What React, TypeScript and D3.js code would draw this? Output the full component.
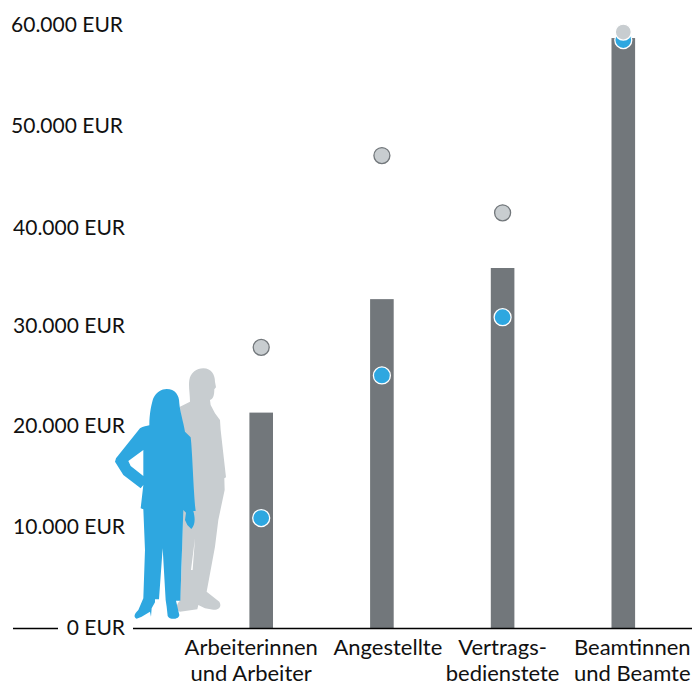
import React from "react";
import * as d3 from "d3";

const categories = ["arbeiter", "angestellte", "vertrags", "beamte"];
const categoryLabels = [
  ["Arbeiterinnen", "und Arbeiter"],
  ["Angestellte"],
  ["Vertrags-", "bedienstete"],
  ["Beamtinnen", "und Beamte"],
];
const barValues = [21500, 32800, 35900, 58800];
const menValues = [28000, 47100, 41400, 59400];
const womenValues = [11000, 25200, 31000, 58600];
const yTicks = [0, 10000, 20000, 30000, 40000, 50000, 60000];

const WIDTH = 692;
const HEIGHT = 686;
const FONT = "Lato, 'Noto Sans', sans-serif";
const BAR_COLOR = "#72777b";
const BLUE = "#2ea7e0";
const GRAY = "#c8cdd0";

// label placement in the original is hand set, so nudge per label
const labelDy = [-1, -1, -2, -2, 1, -1, -1];
const labelEnd = [125, 125, 125, 125, 125, 123, 123];
const categoryDx = [-10, 6, 0, 9];

// silhouettes, drawn in their own coordinates (3x of the screen)
const manPath =
  "M310,55 C335,55 345,75 345,95 L348,112 L343,118 C343,135 340,148 330,150 L332,165 L345,190 L360,210 L362,240 L378,382 L373,385 L374,420 L355,510 L345,590 L320,725 L358,755 C366,768 358,780 340,779 L315,775 L295,765 L292,778 L240,785 C228,780 226,765 240,752 L245,650 L250,400 L240,170 L270,155 C270,130 265,110 268,90 C272,68 290,55 310,55 Z " +
  "M285,565 L273,660 L278,660 Z";
const womanPath =
  "M200,117 C225,117 238,135 238,160 C240,185 250,215 255,245 L272,262 C277,300 280,420 287,483 L280,483 C286,505 286,525 274,537 L262,525 L255,510 L258,488 L250,480 L241,752 L228,752 L238,795 C236,810 208,810 203,798 L200,770 L197,750 L188,595 L177,748 L165,748 L165,757 L155,775 L153,800 L150,785 L125,800 L110,806 C100,802 102,792 115,780 L130,745 L135,600 L130,478 L122,475 L130,405 L122,415 L70,375 L45,335 L48,325 L120,235 C130,228 140,228 148,226 C148,190 155,160 160,145 C170,125 185,117 200,117 Z " +
  "M130,300 L85,333 L92,348 L130,378 Z";

const App = () => {
  const y = d3.scaleLinear().domain([0, 60000]).range([628.5, 26]);
  const x = d3.scalePoint<string>().domain(categories).range([261.2, 623.3]);
  const fmt = d3.formatLocale({
    decimal: ",",
    thousands: ".",
    grouping: [3],
    currency: ["", " EUR"],
  }).format(",");

  return (
    <svg
      width={WIDTH}
      height={HEIGHT}
      style={{ position: "absolute", left: 0, top: 0 }}
      fontFamily={FONT}
    >
      {/* figures */}
      <g transform="translate(100,350) scale(0.3333)">
        <path d={manPath} fill={GRAY} fillRule="evenodd" />
        <path d={womanPath} fill={BLUE} fillRule="evenodd" />
      </g>

      {/* bars */}
      {categories.map((c, i) => (
        <rect
          key={c}
          x={x(c)! - 11.8}
          y={y(barValues[i])}
          width={23.6}
          height={y(0) - y(barValues[i])}
          fill={BAR_COLOR}
        />
      ))}

      {/* baseline with a gap for the 0 label */}
      <line x1={13} x2={58} y1={y(0)} y2={y(0)} stroke="#000" strokeWidth={1.3} />
      <line x1={133} x2={WIDTH} y1={y(0)} y2={y(0)} stroke="#000" strokeWidth={1.3} />

      {/* y labels */}
      {yTicks.map((t, i) => (
        <text
          key={t}
          x={labelEnd[i]}
          y={y(t) + labelDy[i]}
          dy="0.35em"
          textAnchor="end"
          fontSize={21}
          fill="#111"
        >
          {fmt(t)} EUR
        </text>
      ))}

      {/* points */}
      {categories.map((c, i) => (
        <circle
          key={c}
          cx={x(c)}
          cy={y(womenValues[i])}
          r={8.5}
          fill={BLUE}
          stroke="#fff"
          strokeWidth={1.3}
        />
      ))}
      {categories.map((c, i) => (
        <circle
          key={c}
          cx={x(c)}
          cy={y(menValues[i])}
          r={8}
          fill={GRAY}
          stroke={i === 3 ? "#fff" : BAR_COLOR}
          strokeWidth={1.3}
        />
      ))}

      {/* category labels */}
      {categories.map((c, i) => (
        <text key={c} textAnchor="middle" fontSize={22} fill="#111">
          {categoryLabels[i].map((line, j) => (
            <tspan key={line} x={x(c)! + categoryDx[i]} y={655 + j * 26}>
              {line}
            </tspan>
          ))}
        </text>
      ))}
    </svg>
  );
};

export default App;
